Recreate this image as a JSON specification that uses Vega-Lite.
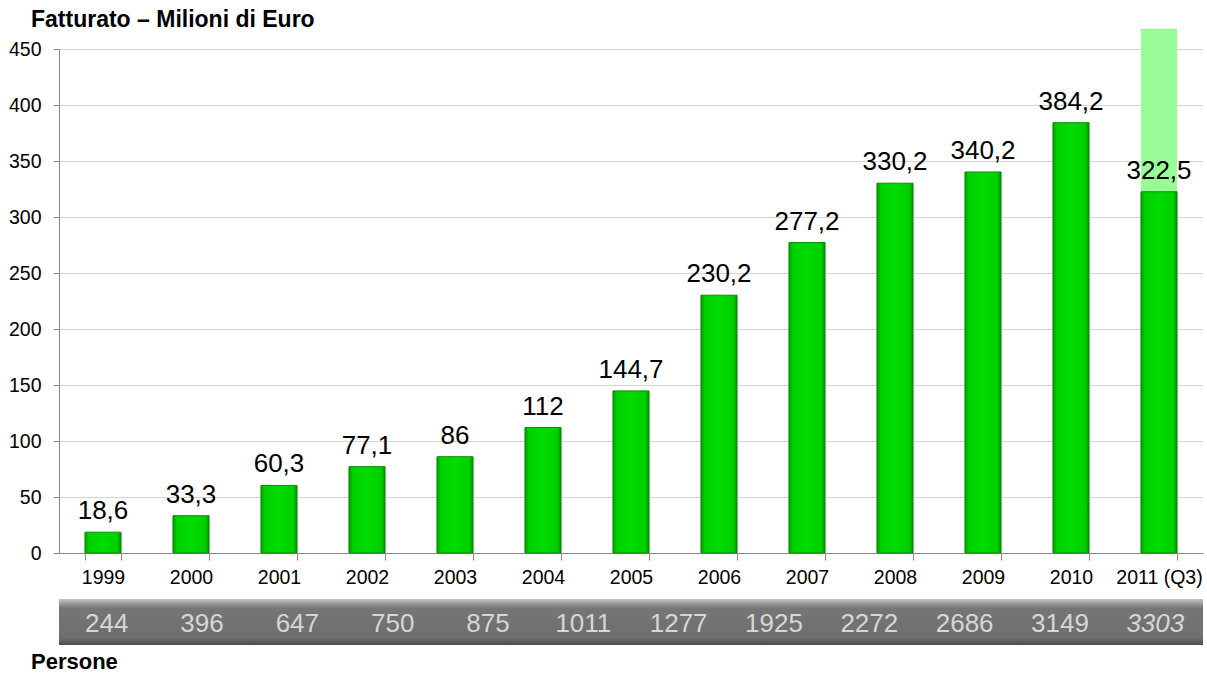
{
  "$schema": "https://vega.github.io/schema/vega-lite/v6.json",
  "padding": {"left": 8, "top": 8, "right": 5, "bottom": 0},
  "background": "white",
  "config": {"font": "Liberation Sans", "view": {"stroke": null}},
  "spacing": 46,
  "bounds": "flush",
  "vconcat": [
    {
      "width": 1144,
      "height": 504,
      "title": {"text": "Fatturato  – Milioni di Euro", "anchor": "start", "frame": "group", "dx": -28, "offset": -21, "baseline": "alphabetic", "fontSize": 23, "fontWeight": "bold", "color": "black"},
      "data": {"values": [
        {"anno": "1999", "fatturato": 18.6, "etichetta": "18,6"},
        {"anno": "2000", "fatturato": 33.3, "etichetta": "33,3"},
        {"anno": "2001", "fatturato": 60.3, "etichetta": "60,3"},
        {"anno": "2002", "fatturato": 77.1, "etichetta": "77,1"},
        {"anno": "2003", "fatturato": 86, "etichetta": "86"},
        {"anno": "2004", "fatturato": 112, "etichetta": "112"},
        {"anno": "2005", "fatturato": 144.7, "etichetta": "144,7"},
        {"anno": "2006", "fatturato": 230.2, "etichetta": "230,2"},
        {"anno": "2007", "fatturato": 277.2, "etichetta": "277,2"},
        {"anno": "2008", "fatturato": 330.2, "etichetta": "330,2"},
        {"anno": "2009", "fatturato": 340.2, "etichetta": "340,2"},
        {"anno": "2010", "fatturato": 384.2, "etichetta": "384,2"},
        {"anno": "2011 (Q3)", "fatturato": 322.5, "etichetta": "322,5"}
      ]},
      "encoding": {
        "x": {
          "field": "anno", "type": "nominal",
          "scale": {"domain": ["1999","2000","2001","2002","2003","2004","2005","2006","2007","2008","2009","2010","2011 (Q3)"], "paddingInner": 0.59, "paddingOuter": 0.295},
          "axis": {"title": null, "labelAngle": 0, "labelFontSize": 19.5, "labelColor": "black", "labelPadding": 8, "tickSize": 7, "tickBand": "extent", "domainColor": "#888888", "tickColor": "#888888", "grid": false}
        }
      },
      "layer": [
        {
          "data": {"values": [{"anno": "2011 (Q3)", "valore": 468}]},
          "mark": {"type": "bar", "color": "#98fb98"},
          "encoding": {
            "y": {"field": "valore", "type": "quantitative",
              "scale": {"domain": [0, 450], "nice": false},
              "axis": {"title": null, "values": [0,50,100,150,200,250,300,350,400,450], "labelFontSize": 19.5, "labelColor": "black", "labelPadding": 12, "tickSize": 6, "domainColor": "#888888", "tickColor": "#888888", "gridColor": "#a8a8a8", "gridDash": [1, 1]}}
          }
        },
        {
          "mark": {"type": "bar", "stroke": "#0a8a0a", "strokeWidth": 1,
            "fill": {"gradient": "linear", "x1": 0, "y1": 0, "x2": 1, "y2": 0, "stops": [
              {"offset": 0, "color": "#009a00"},
              {"offset": 0.1, "color": "#00d000"},
              {"offset": 0.5, "color": "#00dc00"},
              {"offset": 0.9, "color": "#00d000"},
              {"offset": 1, "color": "#008c00"}
            ]}},
          "encoding": {"y": {"field": "fatturato", "type": "quantitative"}}
        },
        {
          "mark": {"type": "text", "baseline": "alphabetic", "dy": -13, "fontSize": 26, "color": "black"},
          "encoding": {"y": {"field": "fatturato", "type": "quantitative"}, "text": {"field": "etichetta"}}
        }
      ]
    },
    {
      "width": 1144,
      "height": 46,
      "title": {"text": "Persone", "orient": "bottom", "anchor": "start", "frame": "group", "dx": -28, "offset": 24, "baseline": "alphabetic", "fontSize": 22, "fontWeight": "bold", "color": "black"},
      "layer": [
        {
          "data": {"values": [{"striscia": "Persone"}]},
          "mark": {"type": "rect",
            "fill": {"gradient": "linear", "x1": 0, "y1": 0, "x2": 0, "y2": 1, "stops": [
              {"offset": 0, "color": "#c4c4c4"},
              {"offset": 0.1, "color": "#9a9a9a"},
              {"offset": 0.2, "color": "#767676"},
              {"offset": 0.85, "color": "#6e6e6e"},
              {"offset": 1, "color": "#4c4c4c"}
            ]}},
          "encoding": {}
        },
        {
          "data": {"values": [
            {"n": 1, "persone": "244"},
            {"n": 2, "persone": "396"},
            {"n": 3, "persone": "647"},
            {"n": 4, "persone": "750"},
            {"n": 5, "persone": "875"},
            {"n": 6, "persone": "1011"},
            {"n": 7, "persone": "1277"},
            {"n": 8, "persone": "1925"},
            {"n": 9, "persone": "2272"},
            {"n": 10, "persone": "2686"},
            {"n": 11, "persone": "3149"},
            {"n": 12, "persone": "3303"}
          ]},
          "transform": [{"filter": "datum.n < 12"}],
          "mark": {"type": "text", "baseline": "middle", "dy": 2, "fontSize": 26, "color": "#d6d6d6"},
          "encoding": {
            "x": {"field": "n", "type": "ordinal", "scale": {"domain": [1,2,3,4,5,6,7,8,9,10,11,12], "paddingInner": 0, "paddingOuter": 0.06}, "axis": null},
            "text": {"field": "persone"}
          }
        },
        {
          "data": {"values": [
            {"n": 1, "persone": "244"},
            {"n": 2, "persone": "396"},
            {"n": 3, "persone": "647"},
            {"n": 4, "persone": "750"},
            {"n": 5, "persone": "875"},
            {"n": 6, "persone": "1011"},
            {"n": 7, "persone": "1277"},
            {"n": 8, "persone": "1925"},
            {"n": 9, "persone": "2272"},
            {"n": 10, "persone": "2686"},
            {"n": 11, "persone": "3149"},
            {"n": 12, "persone": "3303"}
          ]},
          "transform": [{"filter": "datum.n == 12"}],
          "mark": {"type": "text", "baseline": "middle", "dy": 2, "fontSize": 26, "fontStyle": "italic", "color": "#d6d6d6"},
          "encoding": {
            "x": {"field": "n", "type": "ordinal", "axis": null},
            "text": {"field": "persone"}
          }
        }
      ]
    }
  ]
}
